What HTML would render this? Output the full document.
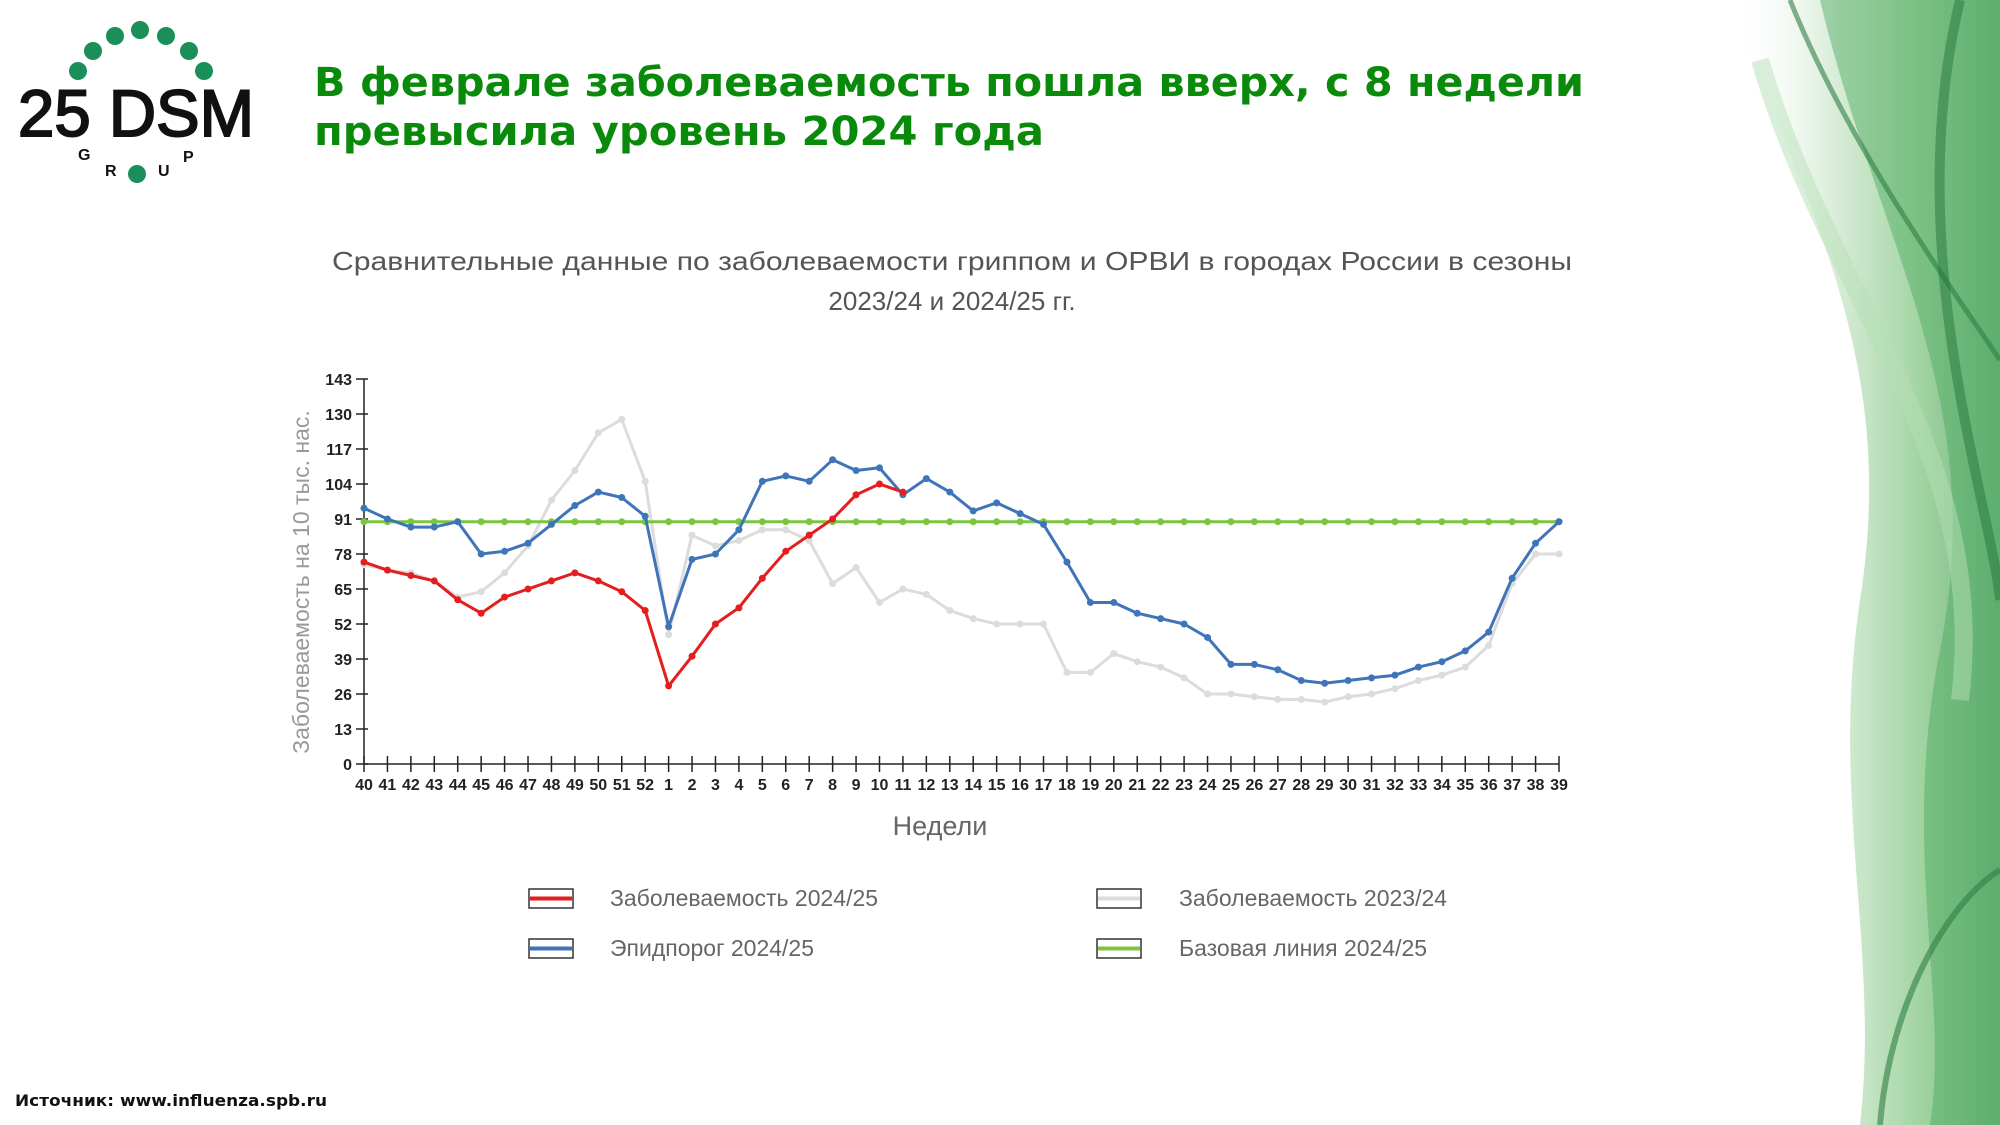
<!DOCTYPE html>
<html><head><meta charset="utf-8"><style>
html,body{margin:0;padding:0;background:#fff;width:2000px;height:1125px;overflow:hidden}
svg{display:block}
</style></head><body>
<svg id="page" width="2000" height="1125" viewBox="0 0 2000 1125" xmlns="http://www.w3.org/2000/svg">
<defs>
<linearGradient id="dg" x1="0" y1="0" x2="1" y2="0">
<stop offset="0" stop-color="#fff" stop-opacity="0"/>
<stop offset="0.35" stop-color="#d8ecd8"/>
<stop offset="0.7" stop-color="#8cca8c"/>
<stop offset="1" stop-color="#4a9e5e"/>
</linearGradient>
</defs>
<g>
<path d="M1730,0 C1800,200 1900,350 1860,600 C1830,800 1880,950 1860,1125 L2000,1125 L2000,0 Z" fill="url(#dg)" opacity="0.8"/>
<path d="M1820,0 C1880,250 1990,400 1940,650 C1900,850 1950,1000 1930,1125 L2000,1125 L2000,0 Z" fill="#4aa85e" opacity="0.45"/>
<path d="M1790,0 C1850,150 1960,300 2000,360" fill="none" stroke="#2f7e45" stroke-width="5" opacity="0.6"/>
<path d="M1880,1125 C1890,1000 1950,900 2000,870" fill="none" stroke="#2f7e45" stroke-width="6" opacity="0.6"/>
<path d="M1760,60 C1830,300 1990,450 1960,700" fill="none" stroke="#b5e0b5" stroke-width="18" opacity="0.5"/>
<path d="M1960,0 C1900,250 1990,500 2000,600" fill="none" stroke="#1f6e35" stroke-width="10" opacity="0.45"/>
</g>
<g fill="#1a8f5a">
<circle cx="78" cy="71" r="9"/><circle cx="93" cy="51" r="9"/><circle cx="115" cy="36" r="9"/><circle cx="140" cy="30" r="9"/><circle cx="166" cy="36" r="9"/><circle cx="189" cy="51" r="9"/><circle cx="204" cy="71" r="9"/><circle cx="137" cy="174" r="9"/>
<text x="18" y="136" font-family="Liberation Sans, sans-serif" font-size="66" fill="#111" stroke="#111" stroke-width="2" textLength="236" lengthAdjust="spacingAndGlyphs">25 DSM</text>
<text x="78" y="160" font-family="Liberation Sans, sans-serif" font-size="16" fill="#111" font-weight="bold">G</text>
<text x="105" y="176" font-family="Liberation Sans, sans-serif" font-size="16" fill="#111" font-weight="bold">R</text>
<text x="158" y="176" font-family="Liberation Sans, sans-serif" font-size="16" fill="#111" font-weight="bold">U</text>
<text x="183" y="162" font-family="Liberation Sans, sans-serif" font-size="16" fill="#111" font-weight="bold">P</text>
</g>
<g font-family="DejaVu Sans, Liberation Sans, sans-serif" font-weight="bold" font-size="40" fill="#0a8a0a">
<text x="314" y="96" textLength="1270" lengthAdjust="spacingAndGlyphs">В феврале заболеваемость пошла вверх, с 8 недели</text>
<text x="314" y="145" textLength="730" lengthAdjust="spacingAndGlyphs">превысила уровень 2024 года</text>
</g>
<g font-family="Liberation Sans, sans-serif" font-size="26" fill="#555" text-anchor="middle">
<text x="952" y="270" textLength="1240" lengthAdjust="spacingAndGlyphs">Сравнительные данные по заболеваемости гриппом и ОРВИ в городах России в сезоны</text>
<text x="952" y="310">2023/24 и 2024/25 гг.</text>
</g>
<g id="chart"></g>
<text transform="translate(309,582) rotate(-90)" text-anchor="middle" font-family="Liberation Sans, sans-serif" font-size="23" fill="#999">Заболеваемость на 10 тыс. нас.</text>
<text x="940" y="835" text-anchor="middle" font-family="Liberation Sans, sans-serif" font-size="27" fill="#666">Недели</text>
<g font-family="Liberation Sans, sans-serif" font-size="23" fill="#666">
<g><rect x="529" y="889" width="44" height="19" fill="#fff" stroke="#333" stroke-width="1.5"/><line x1="530" y1="898.5" x2="572" y2="898.5" stroke="#e41e1e" stroke-width="4"/><text x="610" y="906">Заболеваемость 2024/25</text></g>
<g><rect x="529" y="939" width="44" height="19" fill="#fff" stroke="#333" stroke-width="1.5"/><line x1="530" y1="948.5" x2="572" y2="948.5" stroke="#3f74b8" stroke-width="4"/><text x="610" y="956">Эпидпорог 2024/25</text></g>
<g><rect x="1097" y="889" width="44" height="19" fill="#fff" stroke="#333" stroke-width="1.5"/><line x1="1098" y1="898.5" x2="1140" y2="898.5" stroke="#dcdcdc" stroke-width="4"/><text x="1179" y="906">Заболеваемость 2023/24</text></g>
<g><rect x="1097" y="939" width="44" height="19" fill="#fff" stroke="#333" stroke-width="1.5"/><line x1="1098" y1="948.5" x2="1140" y2="948.5" stroke="#7cc540" stroke-width="4"/><text x="1179" y="956">Базовая линия 2024/25</text></g>
</g>
<text x="15" y="1106" font-family="DejaVu Sans, sans-serif" font-weight="bold" font-size="16" fill="#111" textLength="312" lengthAdjust="spacingAndGlyphs">Источник: www.influenza.spb.ru</text>
</svg>
<script>
const weeks = [40,41,42,43,44,45,46,47,48,49,50,51,52,1,2,3,4,5,6,7,8,9,10,11,12,13,14,15,16,17,18,19,20,21,22,23,24,25,26,27,28,29,30,31,32,33,34,35,36,37,38,39];
const yTicks = [0,13,26,39,52,65,78,91,104,117,130,143];
const season2023 = [74,72,71,68,62,64,71,81,98,109,123,128,105,48,85,81,83,87,87,83,67,73,60,65,63,57,54,52,52,52,34,34,41,38,36,32,26,26,25,24,24,23,25,26,28,31,33,36,44,67,78,78];
const threshold = [95,91,88,88,90,78,79,82,89,96,101,99,92,51,76,78,87,105,107,105,113,109,110,100,106,101,94,97,93,89,75,60,60,56,54,52,47,37,37,35,31,30,31,32,33,36,38,42,49,69,82,90];
const baseline = [90,90,90,90,90,90,90,90,90,90,90,90,90,90,90,90,90,90,90,90,90,90,90,90,90,90,90,90,90,90,90,90,90,90,90,90,90,90,90,90,90,90,90,90,90,90,90,90,90,90,90,90];
const season2024 = [75,72,70,68,61,56,62,65,68,71,68,64,57,29,40,52,58,69,79,85,91,100,104,101];

const NS = 'http://www.w3.org/2000/svg';
const chart = document.getElementById('chart');
const X0 = 364, X1 = 1559, Y0 = 764, Y1 = 379, YMAX = 143;
function xs(i){ return X0 + (X1 - X0) * i / (weeks.length - 1); }
function ys(v){ return Y0 - (Y0 - Y1) * v / YMAX; }
function mk(tag, attrs){ const e = document.createElementNS(NS, tag); for (const k in attrs) e.setAttribute(k, attrs[k]); chart.appendChild(e); return e; }

let yAxis = mk('line', {x1:X0, y1:Y0, x2:X0, y2:Y1, stroke:'#222', 'stroke-width':1.5});


let xAxis = mk('line', {x1:X0, y1:Y0, x2:X1, y2:Y0, stroke:'#222', 'stroke-width':1.5});


yTicks.forEach(function(t){
  const tk = mk('line', {x1:X0-8, y1:ys(t), x2:X0+4, y2:ys(t), stroke:'#222', 'stroke-width':1.5});
  
  
  const lb = mk('text', {x:X0-12, y:ys(t)+6, 'text-anchor':'end', 'font-family':'Liberation Sans Narrow, Liberation Sans, sans-serif', 'font-weight':'bold', 'font-size':16, fill:'#222'});
  lb.textContent = t;
  
  
});
weeks.forEach(function(w, i){
  const tk = mk('line', {x1:xs(i), y1:Y0-8, x2:xs(i), y2:Y0+8, stroke:'#222', 'stroke-width':1.5});
  
  
  const lb = mk('text', {x:xs(i), y:Y0+26, 'text-anchor':'middle', 'font-family':'Liberation Sans Narrow, Liberation Sans, sans-serif', 'font-weight':'bold', 'font-size':16, fill:'#222'});
  lb.textContent = w;
  
  
});

function series(vals, color, width, name){
  const pts = vals.map(function(v, i){ return xs(i).toFixed(1) + ',' + ys(v).toFixed(1); }).join(' ');
  const pl = mk('polyline', {points:pts, fill:'none', stroke:color, 'stroke-width':width, 'stroke-linejoin':'round'});
  
  
  vals.forEach(function(v, i){
    const c = mk('circle', {cx:xs(i), cy:ys(v), r:3.5, fill:color});
    
    
  });
}
series(season2023, '#dcdcdc', 3, 'incidence-2023-24');
series(baseline, '#7cc540', 3, 'baseline-2024-25');
series(threshold, '#3f74b8', 3, 'threshold-2024-25');
series(season2024, '#e41e1e', 3, 'incidence-2024-25');
</script>
</body></html>
